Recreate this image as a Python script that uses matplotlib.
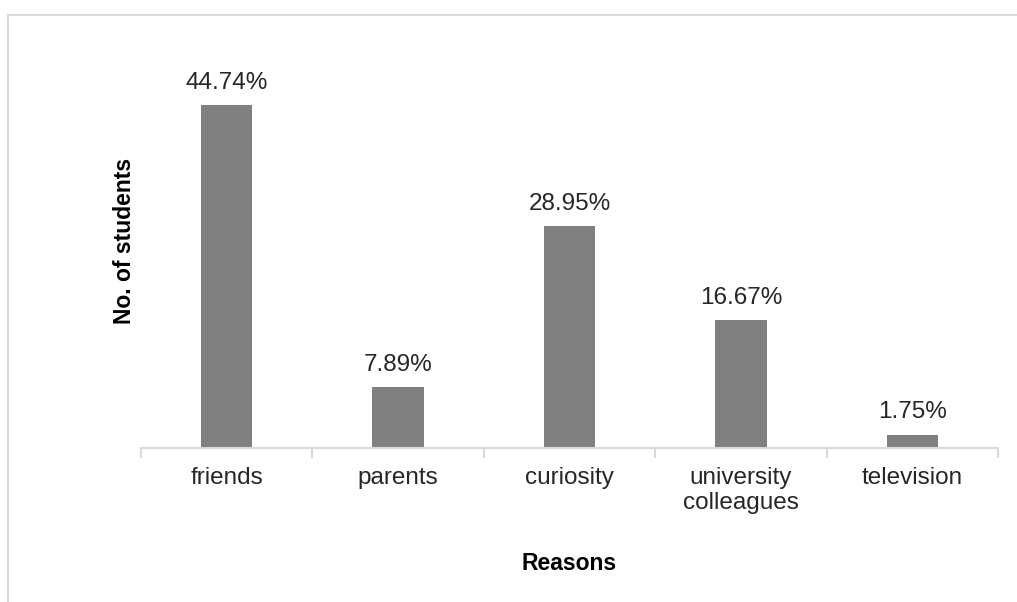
import numpy as np
import matplotlib.pyplot as plt
from matplotlib.lines import Line2D

reasons = ["friends", "parents", "curiosity", "university\ncolleagues", "television"]
percent = [44.74, 7.89, 28.95, 16.67, 1.75]
labels = ["44.74%", "7.89%", "28.95%", "16.67%", "1.75%"]

plt.rcParams['font.family'] = ['Liberation Sans', 'DejaVu Sans']

fig = plt.figure(figsize=(10.17, 6.02), dpi=100)
ax = fig.add_axes([0.1386, 0.2558, 0.8427, 0.6371])

# outer frame (top and left edges visible)
fig.add_artist(Line2D([8/1017, 1], [1 - 15/602, 1 - 15/602], color="#d9d9d9", lw=1.5))
fig.add_artist(Line2D([8/1017, 8/1017], [0, 1 - 15/602], color="#d9d9d9", lw=1.5))

x = np.arange(len(reasons))
ax.bar(x, percent, width=0.3, color="#808080")
for xi, v, lab in zip(x, percent, labels):
    ax.annotate(lab, (xi, v), xytext=(0, 8), textcoords="offset points",
                ha="center", va="bottom", fontsize=17.5, color="#262626")

ax.set_xlim(-0.5, len(reasons) - 0.5)
ax.set_ylim(0, 50)
for s in ["top", "right", "left"]:
    ax.spines[s].set_visible(False)
ax.spines["bottom"].set_color("#d9d9d9")
ax.spines["bottom"].set_linewidth(1.5)
ax.set_yticks([])

ax.set_xticks(x)
ax.set_xticklabels(reasons, fontsize=17.5, color="#262626", linespacing=1.15)
ax.tick_params(axis="x", which="major", length=0, pad=14)
ax.set_xticks(np.arange(-0.5, len(reasons)), minor=True)
ax.tick_params(axis="x", which="minor", length=7, width=1.5, color="#d9d9d9")

ax.set_ylabel("No. of students", fontsize=16.5, fontweight="bold", va="center")
ax.yaxis.set_label_coords(-0.019, 0.54)
ax.set_xlabel("Reasons", fontsize=16.5, fontweight="bold", va="center")
ax.xaxis.set_label_coords(0.5, -0.30)

fig.savefig("out.png", dpi=100)
